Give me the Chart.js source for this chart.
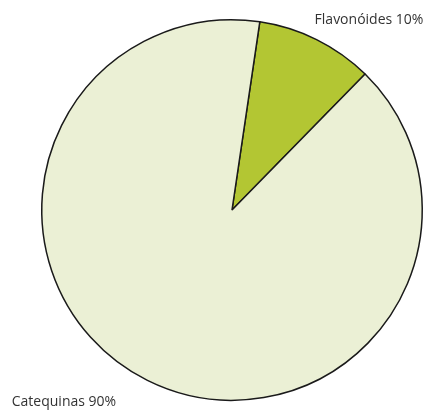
<!DOCTYPE html>
<html>
<head>
<meta charset="utf-8">
<script src="https://cdn.jsdelivr.net/npm/chart.js@4"></script>
<style>
  html, body { margin: 0; padding: 0; background: #ffffff; }
  #wrap { position: relative; width: 438px; height: 412px; }
  canvas { display: block; }
</style>
</head>
<body>
<div id="wrap"><canvas id="chart" width="438" height="412"></canvas></div>
<script>
const categories = ["Flavonóides", "Catequinas"];
const shares = [10, 90];
const sliceLabels = ["Flavonóides 10%", "Catequinas 90%"];
const sliceColors = ["#b3c633", "#ebf0d5"];

// Slice captions: one above-right of the small slice, one below-left of the large one
const captionPlugin = {
  id: "captions",
  afterDraw(chart) {
    const { ctx } = chart;
    const arcs = chart.getDatasetMeta(0).data;
    ctx.save();
    ctx.font = "14px 'Open Sans', sans-serif";
    ctx.fillStyle = "#333333";
    ctx.textBaseline = "alphabetic";
    // small slice: caption right of its centroid, above the rim
    const a0 = arcs[0];
    const mid0 = (a0.startAngle + a0.endAngle) / 2;
    const x0 = a0.x + a0.outerRadius * Math.cos(mid0);
    const y0 = a0.y - a0.outerRadius;
    ctx.textAlign = "left";
    ctx.fillText(sliceLabels[0], x0 - 2, y0 + 4);
    // large slice: caption at lower-left corner of the pie box
    const a1 = arcs[1];
    ctx.fillText(sliceLabels[1], a1.x - a1.outerRadius - 30, a1.y + a1.outerRadius + 6);
    ctx.restore();
  }
};

new Chart(document.getElementById("chart"), {
  type: "pie",
  data: {
    labels: categories,
    datasets: [{
      data: shares,
      backgroundColor: sliceColors,
      borderColor: "#1a1a1a",
      borderWidth: 1.5
    }]
  },
  options: {
    responsive: false,
    animation: false,
    rotation: 8.4,
    layout: { padding: { left: 26, right: 0, top: 19, bottom: 11 } },
    plugins: {
      legend: { display: false },
      tooltip: { enabled: false }
    }
  },
  plugins: [captionPlugin]
});
</script>
</body>
</html>
